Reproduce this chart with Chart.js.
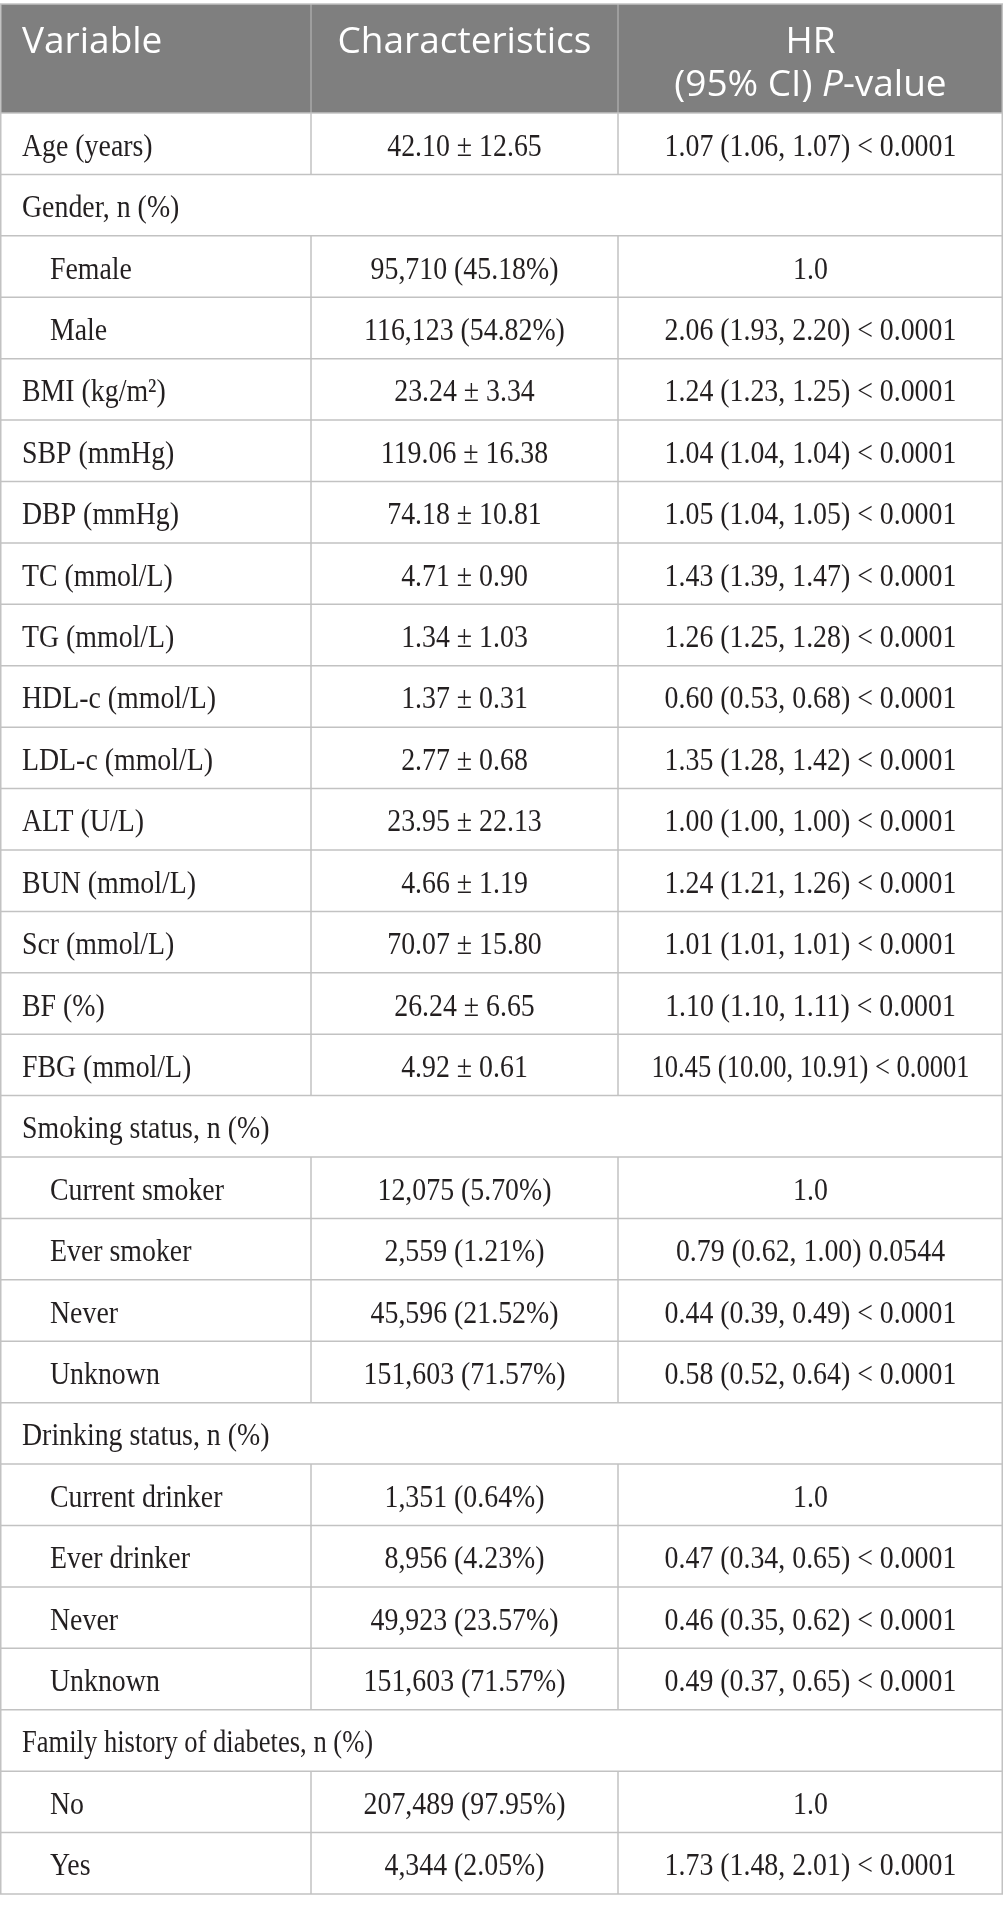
<!DOCTYPE html>
<html><head><meta charset="utf-8">
<script src="https://cdn.jsdelivr.net/npm/chart.js@4.4.1/dist/chart.umd.min.js"></script>
<style>html,body{margin:0;padding:0;background:#fff}canvas{display:block}</style>
</head><body>
<canvas id="c" width="1004" height="1913" style="width:1004px;height:1913px"></canvas>
<script>
// ---------- data ----------
const headerLabels = ['Variable', 'Characteristics', 'HR', '(95% CI) *P*-value'];

const variables = [
  'Age (years)', 'Gender, n (%)', 'Female', 'Male', 'BMI (kg/m²)', 'SBP (mmHg)', 'DBP (mmHg)',
  'TC (mmol/L)', 'TG (mmol/L)', 'HDL-c (mmol/L)', 'LDL-c (mmol/L)', 'ALT (U/L)', 'BUN (mmol/L)',
  'Scr (mmol/L)', 'BF (%)', 'FBG (mmol/L)', 'Smoking status, n (%)', 'Current smoker', 'Ever smoker',
  'Never', 'Unknown', 'Drinking status, n (%)', 'Current drinker', 'Ever drinker', 'Never', 'Unknown',
  'Family history of diabetes, n (%)', 'No', 'Yes'
];

const rowKinds = [
  'main', 'section', 'sub', 'sub', 'main', 'main', 'main',
  'main', 'main', 'main', 'main', 'main', 'main',
  'main', 'main', 'main', 'section', 'sub', 'sub',
  'sub', 'sub', 'section', 'sub', 'sub', 'sub', 'sub',
  'section', 'sub', 'sub'
];

const characteristics = [
  '42.10 ± 12.65', '', '95,710 (45.18%)', '116,123 (54.82%)', '23.24 ± 3.34', '119.06 ± 16.38', '74.18 ± 10.81',
  '4.71 ± 0.90', '1.34 ± 1.03', '1.37 ± 0.31', '2.77 ± 0.68', '23.95 ± 22.13', '4.66 ± 1.19',
  '70.07 ± 15.80', '26.24 ± 6.65', '4.92 ± 0.61', '', '12,075 (5.70%)', '2,559 (1.21%)',
  '45,596 (21.52%)', '151,603 (71.57%)', '', '1,351 (0.64%)', '8,956 (4.23%)', '49,923 (23.57%)', '151,603 (71.57%)',
  '', '207,489 (97.95%)', '4,344 (2.05%)'
];

const hrValues = [
  '1.07 (1.06, 1.07) < 0.0001', '', '1.0', '2.06 (1.93, 2.20) < 0.0001', '1.24 (1.23, 1.25) < 0.0001',
  '1.04 (1.04, 1.04) < 0.0001', '1.05 (1.04, 1.05) < 0.0001',
  '1.43 (1.39, 1.47) < 0.0001', '1.26 (1.25, 1.28) < 0.0001', '0.60 (0.53, 0.68) < 0.0001',
  '1.35 (1.28, 1.42) < 0.0001', '1.00 (1.00, 1.00) < 0.0001', '1.24 (1.21, 1.26) < 0.0001',
  '1.01 (1.01, 1.01) < 0.0001', '1.10 (1.10, 1.11) < 0.0001', '10.45 (10.00, 10.91) < 0.0001', '',
  '1.0', '0.79 (0.62, 1.00) 0.0544', '0.44 (0.39, 0.49) < 0.0001', '0.58 (0.52, 0.64) < 0.0001', '',
  '1.0', '0.47 (0.34, 0.65) < 0.0001', '0.46 (0.35, 0.62) < 0.0001', '0.49 (0.37, 0.65) < 0.0001',
  '', '1.0', '1.73 (1.48, 2.01) < 0.0001'
];

// ---------- layout (not data) ----------
const COL_EDGES = [0, 311, 618, 1003];
const HEADER_UNITS = 1.775;
const N = variables.length;
const colCenter = i => (COL_EDGES[i] + COL_EDGES[i + 1]) / 2;
const rowCenter = i => HEADER_UNITS + i + 0.5;

const BODY_FONT = '32px "Liberation Serif", "Times New Roman", serif';
const BODY_SX = 0.87;
const HEAD_FONT = '37px "Open Sans", sans-serif';
const HEAD_FONT_I = 'italic 37px "Open Sans", sans-serif';

const datasets = [
  { label: 'Variable', data: variables.map((t, i) => ({ x: COL_EDGES[0], y: rowCenter(i) })), texts: variables, col: 0 },
  { label: 'Characteristics', data: characteristics.map((t, i) => ({ x: colCenter(1), y: rowCenter(i) })), texts: characteristics, col: 1 },
  { label: 'HR', data: hrValues.map((t, i) => ({ x: colCenter(2), y: rowCenter(i) })), texts: hrValues, col: 2 }
].map(d => Object.assign(d, { pointRadius: 0, showLine: false }));

function drawHeaderRich(ctx, str, cx, y) {
  const parts = str.split('*').map((s, k) => ({ s, it: k % 2 === 1 }));
  let w = 0;
  parts.forEach(p => { ctx.font = p.it ? HEAD_FONT_I : HEAD_FONT; p.w = ctx.measureText(p.s).width; w += p.w; });
  let x = cx - w / 2;
  ctx.textAlign = 'left';
  parts.forEach(p => { ctx.font = p.it ? HEAD_FONT_I : HEAD_FONT; ctx.fillText(p.s, x, y); x += p.w; });
}

const tablePlugin = {
  id: 'tablePlugin',
  beforeDatasetsDraw(chart) {
    const { ctx, scales: { x, y } } = chart;
    const L = x.getPixelForValue(COL_EDGES[0]), R = x.getPixelForValue(COL_EDGES[3]);
    const T = y.getPixelForValue(0), HB = y.getPixelForValue(HEADER_UNITS), B = y.getPixelForValue(HEADER_UNITS + N);
    ctx.save();
    // header background
    ctx.fillStyle = '#7f7f7f';
    ctx.fillRect(L, T, R - L, HB - T);
    // header dividers
    ctx.strokeStyle = '#a9a9a9';
    ctx.lineWidth = 1.5;
    [1, 2].forEach(c => {
      const px = x.getPixelForValue(COL_EDGES[c]);
      ctx.beginPath(); ctx.moveTo(px, T); ctx.lineTo(px, HB); ctx.stroke();
    });
    // body grid
    ctx.strokeStyle = '#c2c2c2';
    ctx.lineWidth = 1.5;
    for (let k = 0; k <= N; k++) {
      const py = y.getPixelForValue(HEADER_UNITS + k);
      ctx.beginPath(); ctx.moveTo(L, py); ctx.lineTo(R, py); ctx.stroke();
    }
    ctx.beginPath(); ctx.moveTo(L, T); ctx.lineTo(R, T); ctx.stroke();
    for (let i = 0; i < N; i++) {
      if (rowKinds[i] === 'section') continue;
      const y0 = y.getPixelForValue(HEADER_UNITS + i), y1 = y.getPixelForValue(HEADER_UNITS + i + 1);
      [1, 2].forEach(c => {
        const px = x.getPixelForValue(COL_EDGES[c]);
        ctx.beginPath(); ctx.moveTo(px, y0); ctx.lineTo(px, y1); ctx.stroke();
      });
    }
    [L + 0.75, R - 0.75].forEach(px => {
      ctx.beginPath(); ctx.moveTo(px, T); ctx.lineTo(px, B); ctx.stroke();
    });
    // header text
    ctx.fillStyle = '#ffffff';
    ctx.textBaseline = 'alphabetic';
    const line1 = T + 49, line2 = T + 92;
    ctx.font = HEAD_FONT;
    ctx.textAlign = 'left';
    ctx.fillText(headerLabels[0], L + 22, line1);
    ctx.textAlign = 'center';
    ctx.fillText(headerLabels[1], x.getPixelForValue(colCenter(1)), line1);
    ctx.fillText(headerLabels[2], x.getPixelForValue(colCenter(2)), line1);
    drawHeaderRich(ctx, headerLabels[3], x.getPixelForValue(colCenter(2)), line2);
    ctx.restore();
  },
  afterDatasetsDraw(chart) {
    const { ctx } = chart;
    ctx.save();
    ctx.fillStyle = '#231f20';
    ctx.font = BODY_FONT;
    ctx.textBaseline = 'alphabetic';
    chart.data.datasets.forEach((ds, di) => {
      const meta = chart.getDatasetMeta(di);
      meta.data.forEach((pt, i) => {
        const t = ds.texts[i];
        if (!t) return;
        let px = pt.x;
        if (ds.col === 0) {
          px += rowKinds[i] === 'sub' ? 50 : 22;
          ctx.textAlign = 'left';
        } else {
          ctx.textAlign = 'center';
        }
        const sx = (t.length > 27) ? 0.83 : BODY_SX;
        ctx.save();
        ctx.translate(px, pt.y + 12);
        ctx.scale(sx, 1);
        ctx.fillText(t, 0, 0);
        ctx.restore();
      });
    });
    ctx.restore();
  }
};

new Chart(document.getElementById('c'), {
  type: 'scatter',
  data: { datasets },
  options: {
    responsive: false,
    animation: false,
    events: [],
    layout: { padding: { top: 4, left: 0, right: 1, bottom: 19 } },
    plugins: { legend: { display: false }, tooltip: { enabled: false } },
    scales: {
      x: { type: 'linear', min: COL_EDGES[0], max: COL_EDGES[3], display: false },
      y: { type: 'linear', min: 0, max: HEADER_UNITS + N, reverse: true, display: false }
    }
  },
  plugins: [tablePlugin]
});
</script>
</body></html>
